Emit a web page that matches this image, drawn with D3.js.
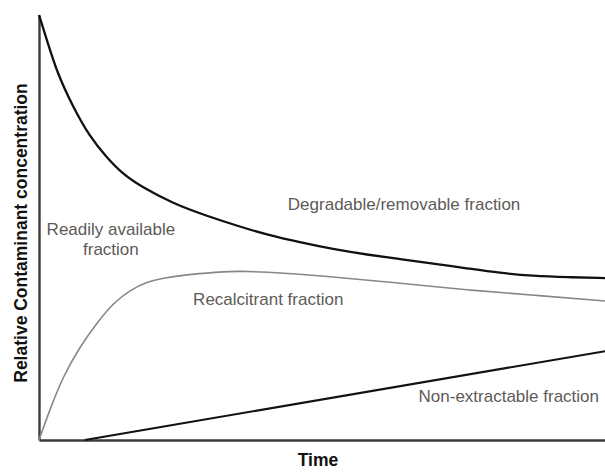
<!DOCTYPE html>
<html>
<head>
<meta charset="utf-8">
<script src="https://cdn.jsdelivr.net/npm/d3@7"></script>
<style>
  body { margin: 0; background: #fff; }
  svg text { font-family: "Liberation Sans", Arial, sans-serif; }
  .lbl { fill: #5e5a58; font-size: 17px; }
  .axis-title { fill: #111; font-size: 17.5px; font-weight: bold; }
</style>
</head>
<body>
<script>
const width = 605, height = 472;
const margin = {left: 39, top: 15, right: 0, bottom: 32};

// time (0-100) vs relative concentration (0-100)
const degradableT = [0, 1.4, 3.2, 6, 9, 12, 14.8, 17.8, 23.7, 29.7, 35.5, 40.3, 46.1, 51.9, 58, 63.8, 69.6, 75.6, 81.4, 87.3, 93.3, 100];
const degradableC = [100, 94.1, 86.4, 78.4, 71.3, 66.4, 62.6, 59.8, 55.6, 52.7, 50.2, 48.3, 46.5, 44.9, 43.6, 42.6, 41.5, 40.4, 39.3, 38.6, 38.3, 38.1];
const recalcitrantT = [0, 1.9, 4.2, 7.2, 10.2, 13.1, 16.1, 19.1, 21.9, 25.4, 31.4, 35.5, 43.1, 51.9, 63.8, 75.6, 87.3, 100];
const recalcitrantC = [0, 7.1, 14.8, 21.9, 27.5, 32.2, 35.3, 37.2, 38.1, 38.8, 39.5, 39.8, 39.3, 38.4, 36.9, 35.3, 34.1, 32.7];
const nonExtractT = [8.1, 100];
const nonExtractC = [0, 20.9];

const labels = [
    { text: ['Degradable/removable fraction'], t: 64.5, c: 54.1 },
    { text: ['Readily available', 'fraction'], t: 12.7, c: 48.2 },
    { text: ['Recalcitrant fraction'], t: 40.5, c: 31.8 },
    { text: ['Non-extractable fraction'], t: 83.0, c: 8.9 }
];

const x = d3.scaleLinear().domain([0, 100]).range([margin.left, width - margin.right]);
const y = d3.scaleLinear().domain([0, 100]).range([height - margin.bottom, margin.top]);

const svg = d3.select('body').append('svg')
    .attr('width', width).attr('height', height);

const zip = (ts, cs) => ts.map((t, i) => [t, cs[i]]);
const line = d3.line().x(d => x(d[0])).y(d => y(d[1])).curve(d3.curveBasis);

// axes (no ticks)
svg.append('g')
    .attr('transform', `translate(0,${y(0)})`)
    .call(d3.axisBottom(x).tickValues([]).tickSizeOuter(0))
    .call(g => g.select('.domain').attr('stroke', '#3f3a37').attr('stroke-width', 2.4));
svg.append('g')
    .attr('transform', `translate(${x(0)},0)`)
    .call(d3.axisLeft(y).tickValues([]).tickSizeOuter(0))
    .call(g => g.select('.domain').attr('stroke', '#3f3a37').attr('stroke-width', 2.4));

svg.append('path')
    .datum(zip(recalcitrantT, recalcitrantC))
    .attr('fill', 'none').attr('stroke', '#8a8685').attr('stroke-width', 1.6)
    .attr('d', line);
svg.append('path')
    .datum(zip(degradableT, degradableC))
    .attr('fill', 'none').attr('stroke', '#111').attr('stroke-width', 2.3)
    .attr('d', line);
svg.append('path')
    .datum(zip(nonExtractT, nonExtractC))
    .attr('fill', 'none').attr('stroke', '#111').attr('stroke-width', 2.1)
    .attr('d', d3.line().x(d => x(d[0])).y(d => y(d[1])));

labels.forEach(l => {
    const txt = svg.append('text')
        .attr('class', 'lbl')
        .attr('text-anchor', 'middle')
        .attr('x', x(l.t)).attr('y', y(l.c));
    l.text.forEach((s, i) => txt.append('tspan')
        .attr('x', x(l.t)).attr('dy', i ? 20 : 0).text(s));
});

svg.append('text')
    .attr('class', 'axis-title')
    .attr('text-anchor', 'middle')
    .attr('x', 318).attr('y', 466)
    .text('Time');
svg.append('text')
    .attr('class', 'axis-title')
    .attr('text-anchor', 'middle')
    .attr('transform', 'translate(27,233) rotate(-90)')
    .text('Relative Contaminant concentration');
</script>
</body>
</html>
